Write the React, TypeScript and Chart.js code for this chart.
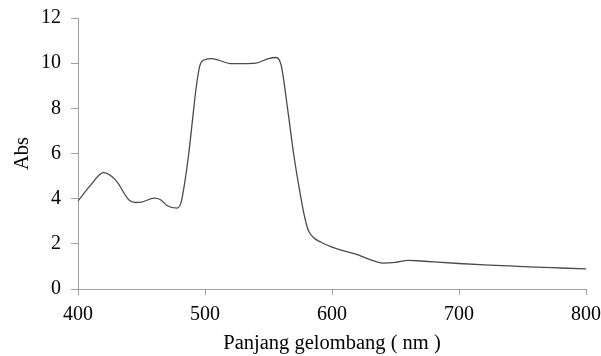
import React, { useEffect, useRef } from "react";
import { Chart, registerables } from "chart.js";

Chart.register(...registerables);

const wavelengths = [400, 410, 420, 430, 440, 445, 450, 460, 465, 470, 478, 481, 484, 487, 490, 493, 496, 500, 505, 510, 520, 530, 540, 550, 556, 560, 565, 570, 575, 578, 581, 585, 591, 600, 610, 620, 630, 640, 650, 660, 670, 680, 700, 720, 740, 760, 780, 800];
const absorbance = [3.9, 4.6, 5.15, 4.8, 3.95, 3.83, 3.85, 4.02, 3.95, 3.7, 3.58, 3.8, 4.7, 5.9, 7.4, 8.9, 9.9, 10.15, 10.2, 10.15, 9.98, 9.98, 10.0, 10.2, 10.25, 9.9, 8.0, 5.9, 4.2, 3.3, 2.65, 2.3, 2.08, 1.85, 1.68, 1.52, 1.3, 1.15, 1.18, 1.27, 1.24, 1.2, 1.13, 1.07, 1.02, 0.97, 0.93, 0.89];
const xTitle = "Panjang gelombang ( nm )";
const yTitle = "Abs";

export default function App() {
  const ref = useRef<HTMLCanvasElement | null>(null);
  useEffect(() => {
    if (!ref.current) return;
    const font = "'Liberation Serif', 'Times New Roman', serif";
    const chart = new Chart(ref.current, {
      type: "line",
      data: {
        datasets: [
          {
            data: wavelengths.map((x, i) => ({ x, y: absorbance[i] })),
            borderColor: "#4a4a4a",
            borderWidth: 1.3,
            pointRadius: 0,
            fill: false,
            cubicInterpolationMode: "monotone",
          },
        ],
      },
      options: {
        animation: false,
        responsive: false,
        maintainAspectRatio: false,
        layout: { padding: { top: 18, right: 15, left: 0, bottom: 0 } },
        plugins: { legend: { display: false }, tooltip: { enabled: false } },
        scales: {
          x: {
            type: "linear",
            min: 400,
            max: 800,
            ticks: { stepSize: 100, color: "#000", font: { family: font, size: 20 }, padding: 8, maxRotation: 0 },
            grid: { drawOnChartArea: false, drawTicks: true, tickLength: 6, color: "#a0a0a0" },
            border: { display: true, color: "#a0a0a0" },
            title: { display: true, text: xTitle, color: "#000", font: { family: font, size: 20.5 }, padding: { top: 2, bottom: 0 } },
            afterFit: (s: any) => { s.height = 67; s.paddingLeft = 0; s.paddingRight = 0; },
          },
          y: {
            min: 0,
            max: 12,
            ticks: { stepSize: 2, color: "#000", font: { family: font, size: 20 }, padding: 10 },
            grid: { drawOnChartArea: false, drawTicks: true, tickLength: 7, color: "#a0a0a0" },
            border: { display: true, color: "#a0a0a0" },
            title: { display: true, text: yTitle, color: "#000", font: { family: font, size: 20.5 }, padding: { top: 10, bottom: 0 } },
            afterFit: (s: any) => { s.width = 78; s.paddingTop = 0; s.paddingBottom = 0; },
          },
        },
      },
    });
    return () => chart.destroy();
  }, []);
  return (
    <div style={{ position: "fixed", left: 0, top: 0, width: 601, height: 356, background: "#fff" }}>
      <canvas ref={ref} width={601} height={356} style={{ width: 601, height: 356 }} />
    </div>
  );
}
